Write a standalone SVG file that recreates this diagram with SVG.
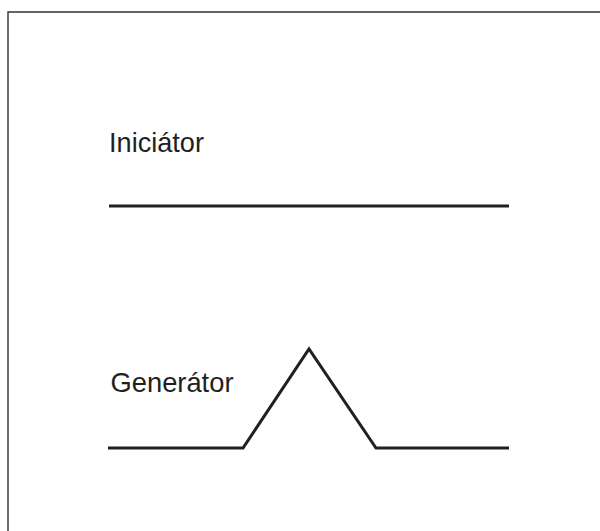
<svg xmlns="http://www.w3.org/2000/svg" width="600" height="531" viewBox="0 0 600 531">
  <style>
    .frame { fill: none; stroke: #333333; stroke-width: 1.4; }
    .curve { fill: none; stroke: #231f20; stroke-width: 3; stroke-linejoin: miter; stroke-miterlimit: 10; }
    .label { font-family: "Liberation Sans", Arial, sans-serif; font-size: 28px; fill: #231f20; }
  </style>
  <rect width="600" height="531" fill="#ffffff"/>
  <!-- frame: top and left edges -->
  <path class="frame" d="M8,531 V12 H600"/>
  <g id="initiator">
    <text class="label" x="109" y="152" textLength="95" lengthAdjust="spacingAndGlyphs">Iniciátor</text>
    <path class="curve" d="M109,206 H509"/>
  </g>
  <g id="generator">
    <text class="label" x="110.5" y="392" textLength="123" lengthAdjust="spacingAndGlyphs">Generátor</text>
    <path class="curve" d="M108,448 H243 L309,349 L376,448 H509"/>
  </g>
</svg>
